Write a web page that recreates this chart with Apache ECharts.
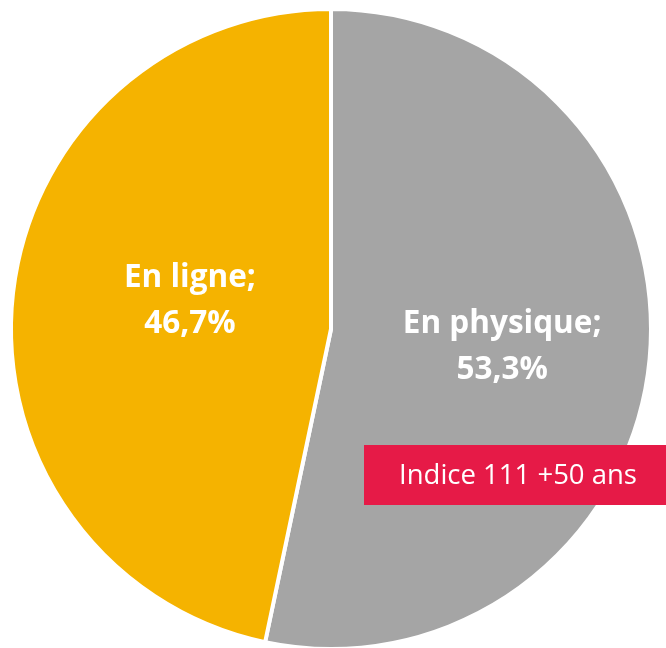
<!DOCTYPE html>
<html><head><meta charset="utf-8">
<script src="https://cdn.jsdelivr.net/npm/echarts@6/dist/echarts.min.js"></script>
<style>html,body{margin:0;padding:0;background:#fff}#c{width:666px;height:648px}</style>
</head><body><div id="c"></div>
<script>
const categories = ['En physique', 'En ligne'];
const values = [53.3, 46.7];
const colors = ['#A5A5A5', '#F5B300'];
const noteText = 'Indice 111 +50 ans';

const chart = echarts.init(document.getElementById('c'));
chart.setOption({
  animation: false,
  series: [{
    type: 'pie',
    center: [331, 329],
    radius: [0, 320],
    startAngle: 90,
    clockwise: true,
    z: 1,
    data: categories.map((n, i) => ({ name: n, value: values[i], itemStyle: { color: colors[i] } })),
    itemStyle: { borderColor: '#fff', borderWidth: 4 },
    label: {
      show: true,
      position: 'inside',
      color: '#fff',
      fontFamily: 'Open Sans',
      fontWeight: 'bold',
      fontSize: 31.5,
      lineHeight: 46,
      formatter: p => p.name + ';\n' + p.value.toFixed(1).replace('.', ',') + '%'
    },
    labelLayout: p => p.dataIndex === 0 ? { dx: 9, dy: 1 } : { dx: 21, dy: -11 },
    labelLine: { show: false },
    emphasis: { disabled: true }
  }],
  graphic: [{
    type: 'group',
    left: 364, top: 445,
    z: 100,
    children: [
      { type: 'rect', z: 100, shape: { x: 0, y: 0, width: 302, height: 60 }, style: { fill: '#E61A47' } },
      { type: 'text', z: 101, x: 154, y: 31, style: { text: noteText, fill: '#fff', font: '27.5px "Open Sans"', align: 'center', verticalAlign: 'middle' } }
    ]
  }]
});
</script></body></html>
